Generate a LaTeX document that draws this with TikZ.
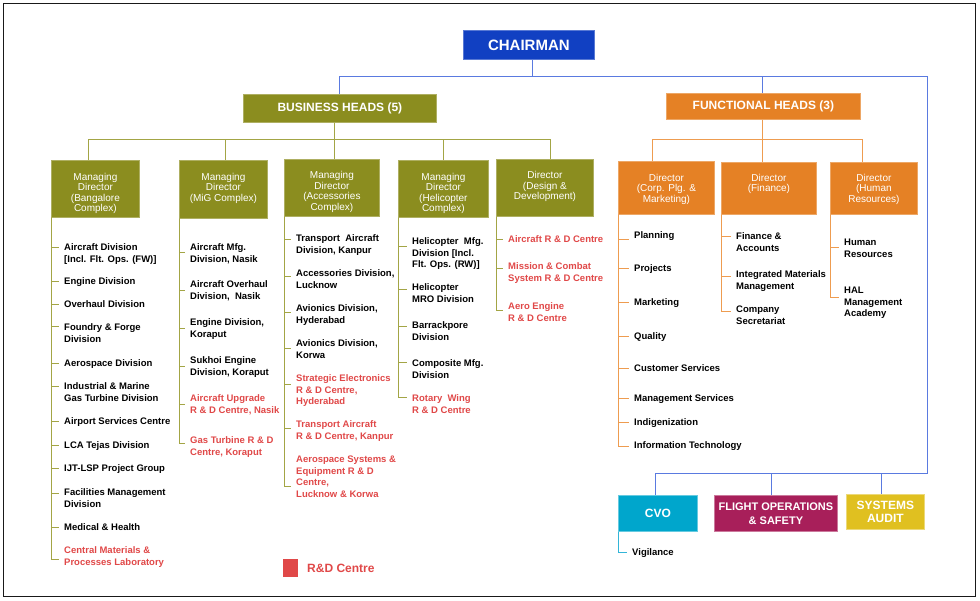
\documentclass[tikz,border=0pt]{standalone}
\usepackage{fontspec}
\setmainfont{Liberation Sans}
\usetikzlibrary{calc}
\definecolor{chairblue}{HTML}{1140C2}
\definecolor{olivebox}{HTML}{8B8D1F}
\definecolor{orangebox}{HTML}{E58125}
\definecolor{cvoc}{HTML}{00A6CC}
\definecolor{foc}{HTML}{A81F5A}
\definecolor{sac}{HTML}{E0C020}
\definecolor{rdred}{HTML}{E04848}
\definecolor{lblue}{HTML}{5A7AE0}
\definecolor{lolive}{HTML}{A3A545}
\definecolor{lorange}{HTML}{EE9C50}
\definecolor{lcyan}{HTML}{33B5D8}
\tikzset{
  box/.style={rectangle, inner sep=0pt, anchor=north west, line width=0.8pt},
  olbox/.style={box, fill=olivebox, draw=olivebox!70!white},
  orbox/.style={box, fill=orangebox, draw=orangebox!70!white},
  btext/.style={text=white, font=\fontsize{10}{10.5}\selectfont, align=center, inner sep=0pt, anchor=north},
  htext/.style={text=white, font=\bfseries\fontsize{12}{13.5}\selectfont, align=center, inner sep=0pt},
  itext/.style={font=\bfseries\fontsize{9.5}{11.7}\selectfont, align=left, inner sep=0pt, anchor=north west},
  bl/.style={draw=lblue, line width=1pt},
  ol/.style={draw=lolive, line width=1pt},
  orl/.style={draw=lorange, line width=1pt},
  itemline/.style={ol},
}
% #1 text colour, #2 box, #3 tick y, #4 text x, #5 first line y, #6 text
\newcommand\li[6][black]{%
  \coordinate (#2-#3) at (#4-5,#3);
  \draw[itemline] ([xshift=0.5pt]#2.south west) |- (#2-#3);
  \node[itext, text=#1] (#2-#3-t) at (#4,#5-4.8) {\strut #6};
}
\begin{document}
\begin{tikzpicture}[x=1pt,y=-1pt]
\useasboundingbox (0,0) rectangle (980,600);
\draw[line width=1.2pt, draw=black!90] (3.5,3.5) rectangle (975.5,596.5);

% top level
\node[box, fill=chairblue, draw=chairblue!70!white, minimum width=131, minimum height=29] (chair) at (463,30) {};
\node[htext, font=\bfseries\fontsize{15}{16}\selectfont] (chairt) at (chair.center) {CHAIRMAN};
\node[olbox, minimum width=193, minimum height=28] (bh) at (243,94) {};
\node[htext] (bht) at (bh.center) {BUSINESS HEADS (5)};
\node[orbox, minimum width=194, minimum height=26] (fh) at (666,93) {};
\node[htext] (fht) at (fh.center) {FUNCTIONAL HEADS (3)};

% level 3 boxes
\node[olbox, minimum width=88, minimum height=57] (mdb) at (51,160) {};
\node[btext] (mdbt) at ([yshift=-12.75pt]mdb.north) {\strut Managing\\Director\\(Bangalore\\Complex)};
\node[olbox, minimum width=88, minimum height=58] (mig) at (179,160) {};
\node[btext] (migt) at ([yshift=-12.75pt]mig.north) {\strut Managing\\Director\\(MiG Complex)};
\node[olbox, minimum width=95, minimum height=57] (acc) at (284,159) {};
\node[btext] (acct) at ([yshift=-12pt]acc.north) {\strut Managing\\Director\\(Accessories\\Complex)};
\node[olbox, minimum width=90, minimum height=57] (heli) at (398,160) {};
\node[btext] (helit) at ([yshift=-12.5pt]heli.north) {\strut Managing\\Director\\(Helicopter\\Complex)};
\node[olbox, minimum width=97, minimum height=57] (dd) at (496,159) {};
\node[btext] (ddt) at ([yshift=-12pt]dd.north) {\strut Director\\(Design \&\\Development)};
\node[orbox, minimum width=96, minimum height=53] (corp) at (618,161) {};
\node[btext] (corpt) at ([yshift=-12.5pt]corp.north) {\strut Director\\(Corp. Plg. \&\\Marketing)};
\node[orbox, minimum width=95, minimum height=52] (fin) at (721,162) {};
\node[btext] (fint) at ([yshift=-11.75pt]fin.north) {\strut Director\\(Finance)};
\node[orbox, minimum width=87, minimum height=52] (hr) at (830,162) {};
\node[btext] (hrt) at ([yshift=-11.75pt]hr.north) {\strut Director\\(Human\\Resources)};

% bottom boxes
\node[box, fill=cvoc, draw=cvoc!60!white, minimum width=79, minimum height=36] (cvo) at (618,495) {};
\node[htext] (cvot) at (cvo.center) {CVO};
\node[box, fill=foc, draw=foc!60!white, minimum width=123, minimum height=36] (fo) at (714,495) {};
\node[htext, font=\bfseries\fontsize{11}{14}\selectfont] (fot) at (fo.center) {FLIGHT OPERATIONS\\\& SAFETY};
\node[box, fill=sac, draw=sac!60!white, minimum width=78, minimum height=35] (sa) at (846,494) {};
\node[htext, font=\bfseries\fontsize{12}{13.3}\selectfont] (sat) at (sa.center) {SYSTEMS\\AUDIT};

% blue connectors
\coordinate (rb) at (927,473);
\draw[bl] ([xshift=3.5pt]chair.south) -- ++(0,17) -| (bh.north);
\draw[bl] ([xshift=3.5pt]chair.south) -- ++(0,17) -| ([xshift=-1pt]fh.north);
\draw[bl] ([xshift=3.5pt]chair.south) -- ++(0,17) -| (rb) -| ([xshift=-2.5pt]cvo.north);
\draw[bl] (rb) -| ([xshift=-4.5pt]fo.north);
\draw[bl] (rb) -| ([xshift=-4pt]sa.north);

% olive connectors
\draw[ol] ([xshift=-5.5pt]bh.south) -- ++(0,17) -| ([xshift=-7pt]mdb.north);
\draw[ol] ([xshift=-5.5pt]bh.south) -- ++(0,17) -| ([xshift=2pt]mig.north);
\draw[ol] ([xshift=-5.5pt]bh.south) -- ++(0,17) -| ([xshift=2.5pt]acc.north);
\draw[ol] ([xshift=-5.5pt]bh.south) -- ++(0,17) -| (heli.north);
\draw[ol] ([xshift=-5.5pt]bh.south) -- ++(0,17) -| ([xshift=5.5pt]dd.north);

% orange connectors
\draw[orl] ([xshift=-1pt]fh.south) -- ++(0,20) -| ([xshift=-14pt]corp.north);
\draw[orl] ([xshift=-1pt]fh.south) -- ++(0,20) -| ([xshift=-6.5pt]fin.north);
\draw[orl] ([xshift=-1pt]fh.south) -- ++(0,20) -| ([xshift=-11.5pt]hr.north);

% Bangalore
\li{mdb}{247}{64}{247}{Aircraft Division\\{[}Incl. Flt. Ops. (FW){]}}
\li{mdb}{281}{64}{281}{Engine Division}
\li{mdb}{304}{64}{304}{Overhaul Division}
\li{mdb}{326}{64}{327}{Foundry \& Forge\\Division}
\li{mdb}{363}{64}{363}{Aerospace Division}
\li{mdb}{386}{64}{386}{Industrial \& Marine\\Gas Turbine Division}
\li{mdb}{421}{64}{421}{Airport Services Centre}
\li{mdb}{445}{64}{445}{LCA Tejas Division}
\li{mdb}{468}{64}{468}{IJT-LSP Project Group}
\li{mdb}{493}{64}{492}{Facilities Management\\Division}
\li{mdb}{527}{64}{527}{Medical \& Health}
\li[rdred]{mdb}{559}{64}{550}{Central Materials \&\\Processes Laboratory}

% MiG
\li{mig}{252}{190}{247}{Aircraft Mfg.\\Division, Nasik}
\li{mig}{290}{190}{284}{Aircraft Overhaul\\Division,~ Nasik}
\li{mig}{328}{190}{322}{Engine Division,\\Koraput}
\li{mig}{366}{190}{360}{Sukhoi Engine\\Division, Koraput}
\li[rdred]{mig}{404}{190}{398}{Aircraft Upgrade\\R \& D Centre, Nasik}
\li[rdred]{mig}{443}{190}{440}{Gas Turbine R \& D\\Centre, Koraput}

% Accessories
\li{acc}{239}{296}{238}{Transport~ Aircraft\\Division, Kanpur}
\li{acc}{276}{296}{273}{Accessories Division,\\Lucknow}
\li{acc}{312}{296}{308}{Avionics Division,\\Hyderabad}
\li{acc}{348}{296}{343}{Avionics Division,\\Korwa}
\li[rdred]{acc}{384}{296}{378}{Strategic Electronics\\R \& D Centre,\\Hyderabad}
\li[rdred]{acc}{428}{296}{424}{Transport Aircraft\\R \& D Centre, Kanpur}
\li[rdred]{acc}{486}{296}{459}{Aerospace Systems \&\\Equipment R \& D\\Centre,\\Lucknow \& Korwa}

% Helicopter
\li{heli}{246}{412}{241}{Helicopter~ Mfg.\\Division [Incl.\\Flt. Ops. (RW)]}
\li{heli}{289}{412}{287}{Helicopter\\MRO Division}
\li{heli}{326}{412}{325}{Barrackpore\\Division}
\li{heli}{362}{412}{363}{Composite Mfg.\\Division}
\li[rdred]{heli}{397}{412}{398}{Rotary~ Wing\\R \& D Centre}

% Design & Development
\li[rdred]{dd}{239}{508}{239}{Aircraft R \& D Centre}
\li[rdred]{dd}{268}{508}{266}{Mission \& Combat\\System R \& D Centre}
\li[rdred]{dd}{310}{508}{306}{Aero Engine\\R \& D Centre}

% Corporate planning
\tikzset{itemline/.style={orl}}
\li{corp}{239}{634}{235}{Planning}
\li{corp}{268}{634}{268}{Projects}
\li{corp}{302}{634}{302}{Marketing}
\li{corp}{336}{634}{336}{Quality}
\li{corp}{368}{634}{368}{Customer Services}
\li{corp}{398}{634}{398}{Management Services}
\li{corp}{422}{634}{422}{Indigenization}
\li{corp}{446}{634}{445}{Information Technology}

% Finance
\li{fin}{236}{736}{236}{Finance \&\\Accounts}
\li{fin}{276}{736}{274}{Integrated Materials\\Management}
\li{fin}{311}{736}{309}{Company\\Secretariat}

% HR
\li{hr}{247}{844}{242}{Human\\Resources}
\li{hr}{297}{844}{290}{HAL\\Management\\Academy}

% CVO
\tikzset{itemline/.style={draw=lcyan, line width=1pt}}
\li{cvo}{552}{632}{552}{Vigilance}

% legend
\node[rectangle, fill=rdred, inner sep=0pt, minimum width=15, minimum height=18, anchor=north west] (leg) at (283,559) {};
\node[anchor=west, inner sep=0pt, text=rdred, font=\bfseries\fontsize{12}{14}\selectfont] (legt) at (307,568.5) {R\&D Centre};
\end{tikzpicture}
\end{document}
